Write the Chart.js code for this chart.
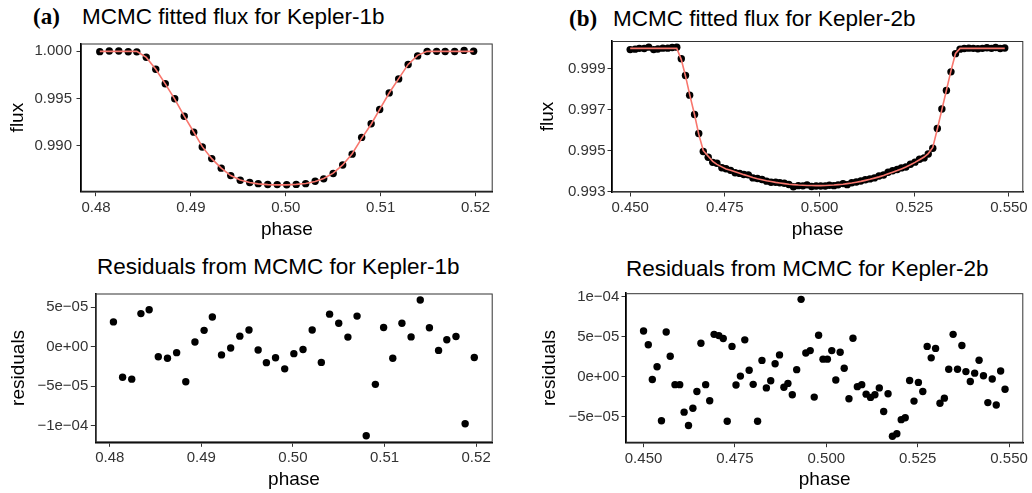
<!DOCTYPE html>
<html lang="en">
<head>
  <meta charset="UTF-8" />
  <title>MCMC fitted flux and residuals</title>
  <script src="https://cdn.jsdelivr.net/npm/chart.js"></script>
  <style>
    body { margin: 0; background: #fff; }
    #wrap { position: relative; width: 1032px; height: 493px; overflow: hidden; }
    canvas { position: absolute; }
    .t { position: absolute; white-space: nowrap; font-family: "Liberation Sans", Arial, sans-serif; font-size: 22.5px; line-height: 1; color: #000; }
    .lab { position: absolute; white-space: nowrap; font-family: "Liberation Serif", "Times New Roman", serif; font-weight: bold; font-size: 23px; line-height: 1; color: #000; }
  </style>
</head>
<body>
  <div id="wrap">
    <div class="lab" style="left:33px; top:5px">(a)</div>
    <div class="t" style="left:82px; top:6px">MCMC fitted flux for Kepler-1b</div>
    <div class="lab" style="left:569px; top:7px">(b)</div>
    <div class="t" style="left:613px; top:7.5px">MCMC fitted flux for Kepler-2b</div>
    <div class="t" style="left:97px; top:256px">Residuals from MCMC for Kepler-1b</div>
    <div class="t" style="left:626px; top:257.5px">Residuals from MCMC for Kepler-2b</div>

    <canvas id="fluxA" width="500" height="215" style="left:0; top:30px"></canvas>
    <canvas id="fluxB" width="516" height="215" style="left:516px; top:30px"></canvas>
    <canvas id="resA" width="500" height="211" style="left:0; top:282px"></canvas>
    <canvas id="resB" width="516" height="211" style="left:516px; top:282px"></canvas>
  </div>

  <script>
    // Kepler-1b: phase, observed flux, MCMC model, residuals
    const phaseA = [0.4804,0.4814,0.4824,0.4834,0.4843,0.4853,0.4863,0.4873,0.4883,0.4893,0.4903,0.4912,0.4922,0.4932,0.4942,0.4952,0.4962,0.4971,0.4981,0.4991,
                    0.5001,0.5011,0.5021,0.5031,0.5040,0.5050,0.5060,0.5070,0.5080,0.5090,0.5099,0.5109,0.5119,0.5129,0.5139,0.5149,0.5159,0.5168,0.5178,0.5188,0.5198];
    const fluxA = [0.99997,1.00004,1.00004,0.99996,0.99995,0.99937,0.99811,0.99658,0.99499,0.99314,0.99146,0.98989,0.98867,0.98766,0.98687,0.98638,0.98614,0.98602,0.98593,0.98592,
                   0.98590,0.98594,0.98602,0.98627,0.98653,0.98710,0.98799,0.98914,0.99091,0.99235,0.99386,0.99561,0.99709,0.99861,0.99952,0.99998,1.00000,0.99999,0.99999,1.00010,1.00001];
    const modelA = [1,1,1,1,1,0.99936,0.99810,0.99657,0.99495,0.99315,0.99148,0.98993,0.98866,0.98766,0.98688,0.98640,0.98614,0.98600,0.98592,0.98589,
                    0.98589,0.98594,0.98604,0.98625,0.98657,0.98713,0.98800,0.98918,0.99080,0.99230,0.99388,0.99560,0.99712,0.99862,0.99958,1,1,1,1,1,1];
    const residA = [3.14e-5,-3.88e-5,-4.13e-5,4.20e-5,4.69e-5,-1.29e-5,-1.47e-5,-0.76e-5,-4.46e-5,0.59e-5,2.07e-5,3.76e-5,-1.05e-5,-0.18e-5,1.33e-5,2.11e-5,-0.43e-5,-2.03e-5,-1.42e-5,-2.82e-5,
                    -0.89e-5,-0.36e-5,2.11e-5,-2.00e-5,4.13e-5,2.97e-5,1.21e-5,3.88e-5,-11.32e-5,-4.79e-5,2.44e-5,-1.47e-5,2.97e-5,1.24e-5,5.92e-5,2.40e-5,-0.48e-5,0.87e-5,1.29e-5,-9.79e-5,-1.38e-5];

    // Kepler-2b
    const phaseB = [0.4500,0.4513,0.4524,0.4537,0.4549,0.4562,0.4573,0.4586,0.4599,0.4611,0.4623,0.4635,0.4646,0.4657,0.4670,0.4681,0.4693,0.4706,0.4718,0.4729,
                    0.4742,0.4753,0.4765,0.4777,0.4789,0.4800,0.4812,0.4824,0.4836,0.4848,0.4860,0.4872,0.4884,0.4895,0.4907,0.4919,0.4931,0.4944,0.4956,0.4967,
                    0.4979,0.4991,0.5003,0.5015,0.5026,0.5038,0.5049,0.5062,0.5073,0.5085,0.5097,0.5109,0.5121,0.5133,0.5145,0.5157,0.5169,0.5181,0.5193,0.5205,
                    0.5216,0.5228,0.5240,0.5252,0.5264,0.5276,0.5287,0.5299,0.5311,0.5323,0.5335,0.5347,0.5359,0.5371,0.5382,0.5394,0.5406,0.5418,0.5430,0.5442,
                    0.5454,0.5465,0.5477,0.5489];
    const fluxB = [0.99994,0.99996,1.00000,0.99999,1.00006,0.99994,0.99997,1.00001,1.00001,1.00004,1.00006,0.99949,0.99867,0.99771,0.99676,0.99583,0.99495,0.99467,0.99442,0.99438,
                   0.99416,0.99411,0.99403,0.99391,0.99388,0.99383,0.99381,0.99366,0.99363,0.99358,0.99350,0.99345,0.99345,0.99342,0.99340,0.99334,0.99323,0.99328,0.99327,0.99332,
                   0.99324,0.99326,0.99326,0.99326,0.99330,0.99328,0.99332,0.99338,0.99333,0.99342,0.99346,0.99351,0.99357,0.99361,0.99366,0.99375,0.99380,0.99394,0.99401,0.99407,
                   0.99415,0.99419,0.99433,0.99443,0.99457,0.99464,0.99483,0.99511,0.99608,0.99703,0.99794,0.99885,0.99974,0.99996,0.99999,1.00001,1.00000,0.99998,1.00000,1.00003,
                   1.00000,1.00004,0.99999,1.00002];
    const modelB = [1,1,1,1,1,1,1,1,1,1,1,0.99945,0.99865,0.99775,0.99675,0.99580,0.99500,0.99472,0.99447,0.99432,
                    0.99420,0.99410,0.99403,0.99396,0.99389,0.99382,0.99375,0.99368,0.99362,0.99357,0.99352,0.99348,0.99344,0.99341,0.99338,0.99335,0.99333,0.99331,0.99330,0.99329,
                    0.99329,0.99328,0.99328,0.99329,0.99330,0.99331,0.99333,0.99335,0.99338,0.99341,0.99345,0.99349,0.99354,0.99359,0.99365,0.99371,0.99378,0.99386,0.99394,0.99402,
                    0.99410,0.99419,0.99430,0.99442,0.99455,0.99468,0.99485,0.99515,0.99605,0.99700,0.99795,0.99890,0.99975,1,1,1,1,1,1,1,
                    1,1,1,1];
    const residB = [5.71e-5,3.99e-5,-0.37e-5,1.23e-5,-5.54e-5,5.58e-5,2.55e-5,-1.02e-5,-1.02e-5,-4.47e-5,-6.15e-5,-3.97e-5,-1.88e-5,4.18e-5,-1.02e-5,-3.03e-5,5.29e-5,5.13e-5,4.76e-5,-5.61e-5,
                    3.78e-5,-1.06e-5,0.05e-5,4.60e-5,0.79e-5,-0.98e-5,-5.61e-5,2.02e-5,-1.43e-5,-0.53e-5,1.60e-5,2.71e-5,-1.35e-5,-0.86e-5,-2.29e-5,0.86e-5,9.68e-5,2.95e-5,3.25e-5,-2.58e-5,
                    5.17e-5,2.18e-5,2.18e-5,3.25e-5,-0.44e-5,3.04e-5,1.03e-5,-2.78e-5,4.80e-5,-1.27e-5,-1.02e-5,-2.21e-5,-2.62e-5,-2.29e-5,-1.43e-5,-4.38e-5,-2.16e-5,-7.50e-5,-7.17e-5,-5.41e-5,
                    -5.17e-5,-0.49e-5,-3.08e-5,-0.74e-5,-1.88e-5,3.78e-5,2.34e-5,3.53e-5,-3.36e-5,-2.71e-5,0.91e-5,5.29e-5,0.91e-5,3.90e-5,0.62e-5,-0.62e-5,0.42e-5,2.05e-5,0.09e-5,-3.27e-5,
                    -0.32e-5,-3.57e-5,0.70e-5,-1.60e-5];

    // axis ticks
    const xTicksA = [0.48, 0.49, 0.50, 0.51, 0.52];
    const xLabelsA = ['0.48', '0.49', '0.50', '0.51', '0.52'];
    const xTicksB = [0.450, 0.475, 0.500, 0.525, 0.550];
    const xLabelsB = ['0.450', '0.475', '0.500', '0.525', '0.550'];
    const yTicksFluxA = [0.990, 0.995, 1.000];
    const yLabelsFluxA = ['0.990', '0.995', '1.000'];
    const yTicksFluxB = [0.993, 0.995, 0.997, 0.999];
    const yLabelsFluxB = ['0.993', '0.995', '0.997', '0.999'];
    const yTicksResA = [-1e-4, -5e-5, 0, 5e-5];
    const yLabelsResA = ['\u22121e\u221204', '\u22125e\u221205', '0e+00', '5e\u221205'];
    const yTicksResB = [-5e-5, 0, 5e-5, 1e-4];
    const yLabelsResB = ['\u22125e\u221205', '0e+00', '5e\u221205', '1e\u221204'];

    const FONT = '"Liberation Sans", Arial, sans-serif';
    const tickFont = { family: FONT, size: 15 };
    const axisTitleFont = { family: FONT, size: 19 };

    // thin box round the panel, the axis lines themselves come from the scales
    const frame = {
      id: 'frame',
      beforeDatasetsDraw(chart) {
        const { ctx, chartArea: a } = chart;
        ctx.save();
        ctx.strokeStyle = '#333';
        ctx.lineWidth = 1;
        ctx.strokeRect(a.left + 0.5, a.top + 0.5, a.right - a.left - 1, a.bottom - a.top - 1);
        ctx.restore();
      }
    };

    function pts(xs, ys) {
      return xs.map((x, i) => ({ x: x, y: ys[i] }));
    }

    function panel(id, o) {
      const datasets = [{
        data: pts(o.x, o.y),
        showLine: false,
        pointRadius: 3.7,
        pointBackgroundColor: '#000',
        pointBorderWidth: 0,
        order: 1
      }];
      if (o.model) {
        datasets.push({
          data: pts(o.x, o.model),
          showLine: true,
          borderColor: '#F8766D',
          borderWidth: 1.6,
          pointRadius: 0,
          tension: 0,
          order: 0
        });
      }
      new Chart(document.getElementById(id), {
        type: 'scatter',
        data: { datasets: datasets },
        options: {
          responsive: false,
          animation: false,
          layout: { padding: { left: 0, top: o.padTop, right: o.padRight, bottom: 0 } },
          plugins: { legend: { display: false }, tooltip: { enabled: false } },
          scales: {
            x: {
              type: 'linear',
              min: o.xMin, max: o.xMax,
              afterBuildTicks: s => { s.ticks = o.xTicks.map(v => ({ value: v })); },
              afterFit: s => { s.height = o.xH; },
              ticks: { callback: (v, i) => o.xLabels[i], font: tickFont, color: '#333', padding: o.xPad, maxRotation: 0, autoSkip: false },
              grid: { drawOnChartArea: false, tickLength: 4.5, color: '#333' },
              border: { color: '#000', width: 1.6 },
              title: { display: true, text: 'phase', font: axisTitleFont, color: '#000', padding: { top: 0, bottom: o.xTitlePad } }
            },
            y: {
              type: 'linear',
              min: o.yMin, max: o.yMax,
              afterBuildTicks: s => { s.ticks = o.yTicks.map(v => ({ value: v })); },
              afterFit: s => { s.width = o.yW; },
              ticks: { callback: (v, i) => o.yLabels[i], font: tickFont, color: '#333', padding: o.yPad, autoSkip: false },
              grid: { drawOnChartArea: false, tickLength: 4.5, color: '#333' },
              border: { color: '#000', width: 1.6 },
              title: { display: true, text: o.yTitle, font: axisTitleFont, color: '#000', padding: { top: o.yTitlePad, bottom: 0 } }
            }
          }
        },
        plugins: [frame]
      });
    }

    panel('fluxA', {
      x: phaseA, y: fluxA, model: modelA,
      xMin: 0.47842, xMax: 0.52181, yMin: 0.98517, yMax: 1.00083,
      xTicks: xTicksA, xLabels: xLabelsA, yTicks: yTicksFluxA, yLabels: yLabelsFluxA,
      yTitle: 'flux', padTop: 8, padRight: 7.3, yW: 81, xH: 53.3,
      xPad: 2.5, yPad: 4.5, xTitlePad: 3.6, yTitlePad: 6.1
    });

    panel('fluxB', {
      x: phaseB, y: fluxB, model: modelB,
      xMin: 0.44520, xMax: 0.55380, yMin: 0.99297, yMax: 1.00036,
      xTicks: xTicksB, xLabels: xLabelsB, yTicks: yTicksFluxB, yLabels: yLabelsFluxB,
      yTitle: 'flux', padTop: 9.5, padRight: 8.7, yW: 96, xH: 53,
      xPad: 2.5, yPad: 2, xTitlePad: 3.6, yTitlePad: 20.6
    });

    panel('resA', {
      x: phaseA, y: residA,
      xMin: 0.47842, xMax: 0.52181, yMin: -12.15e-5, yMax: 6.75e-5,
      xTicks: xTicksA, xLabels: xLabelsA, yTicks: yTicksResA, yLabels: yLabelsResA,
      yTitle: 'residuals', padTop: 7.3, padRight: 7.3, yW: 95.3, xH: 50.7,
      xPad: 2.5, yPad: 2.5, xTitlePad: 1.6, yTitlePad: 6.9
    });

    panel('resB', {
      x: phaseB, y: residB,
      xMin: 0.44520, xMax: 0.55390, yMin: -8.3e-5, yMax: 10.45e-5,
      xTicks: xTicksB, xLabels: xLabelsB, yTicks: yTicksResB, yLabels: yLabelsResB,
      yTitle: 'residuals', padTop: 9, padRight: 8.7, yW: 110, xH: 50.3,
      xPad: 2.5, yPad: 2.2, xTitlePad: 1.6, yTitlePad: 21.9
    });
  </script>
</body>
</html>
